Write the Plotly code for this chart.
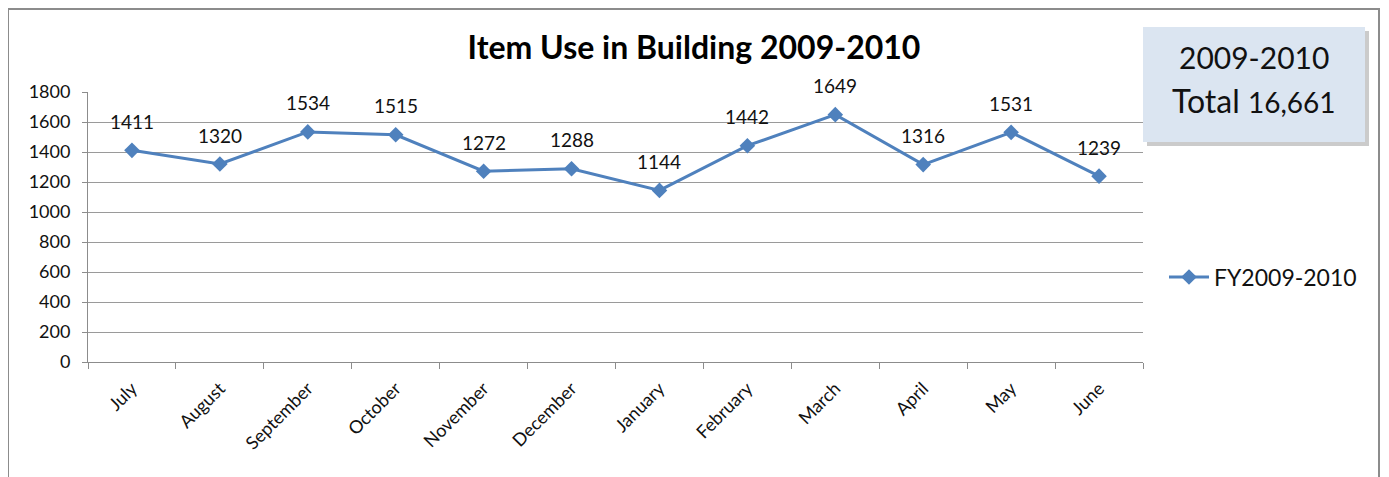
import plotly.graph_objects as go

months = ["July", "August", "September", "October", "November", "December",
          "January", "February", "March", "April", "May", "June"]
values = [1411, 1320, 1534, 1515, 1272, 1288, 1144, 1442, 1649, 1316, 1531, 1239]
series_name = "FY2009-2010"
title_text = "Item Use in Building 2009-2010"
box_line1 = "2009-2010"
box_total_label = "Total"
box_total_value = "16,661"
y_ticks = [0, 200, 400, 600, 800, 1000, 1200, 1400, 1600, 1800]

FONT = "Lato, 'Open Sans', sans-serif"
BLUE = "#4f81bd"

# page body has an 8px margin; figure is sized/offset to compensate
OFF = 8
W, H = 1389 - OFF, 477 - OFF
L, T = 88 - OFF, 92 - OFF
R = W - (1143 - OFF)
B = H - (362 - OFF)
pw, ph = W - L - R, H - T - B

def px(x):
    return (x - OFF - L) / pw

def py(y):
    return (H - B - (y - OFF)) / ph

fig = go.Figure()
fig.add_trace(go.Scatter(
    x=months, y=values, name=series_name,
    mode="lines+markers",
    line=dict(color=BLUE, width=3),
    marker=dict(symbol="diamond", size=12, color=BLUE),
    cliponaxis=False,
))

annotations = [
    dict(x=m, y=v, xref="x", yref="y", text=str(v), showarrow=False,
         yshift=29, font=dict(size=19, color="#111111", family=FONT),
         xanchor="center", yanchor="middle")
    for m, v in zip(months, values)
]

shapes = [
    dict(type="rect", xref="paper", yref="paper",
         x0=px(8), x1=px(1379), y0=py(530), y1=py(9),
         line=dict(color="#8c8c8c", width=2), fillcolor="rgba(0,0,0,0)", layer="below"),
    dict(type="rect", xref="paper", yref="paper",
         x0=px(1147), x1=px(1369), y0=py(146), y1=py(31),
         line=dict(width=0), fillcolor="rgba(140,140,140,0.45)", layer="above"),
    dict(type="rect", xref="paper", yref="paper",
         x0=px(1143), x1=px(1365), y0=py(142), y1=py(27),
         line=dict(width=0), fillcolor="#dbe5f1", layer="above"),
]

annotations += [
    dict(xref="paper", yref="paper", x=px(1254), y=py(57), showarrow=False,
         text=box_line1, font=dict(size=30, color="#111111", family=FONT),
         xanchor="center", yanchor="middle"),
    dict(xref="paper", yref="paper", x=px(1254), y=py(100), showarrow=False,
         text=f"{box_total_label} <span style='font-size:28px'>{box_total_value}</span>",
         font=dict(size=32, color="#111111", family=FONT),
         xanchor="center", yanchor="middle"),
]

fig.update_layout(
    width=W, height=H,
    margin=dict(l=L, r=R, t=T, b=B, autoexpand=False),
    paper_bgcolor="white", plot_bgcolor="white",
    font=dict(family=FONT, color="#111111"),
    title=dict(text=f"<b>{title_text}</b>", x=(694 - OFF) / W, xref="container",
               y=1 - (48 - OFF) / H, yref="container", xanchor="center", yanchor="middle",
               font=dict(size=32, family=FONT, color="#000000")),
    showlegend=True,
    legend=dict(x=px(1164), y=py(277), xanchor="left", yanchor="middle",
                font=dict(size=23, family=FONT, color="#111111"),
                bgcolor="rgba(0,0,0,0)", itemwidth=40),
    shapes=shapes,
    annotations=annotations,
    xaxis=dict(type="category", tickangle=-45, tickson="boundaries",
               ticks="outside", ticklen=6, tickcolor="#8c8c8c",
               ticklabelstandoff=8,
               showline=True, linecolor="#8c8c8c", linewidth=1,
               showgrid=False, tickfont=dict(size=18, family=FONT, color="#111111"),
               range=[-0.5, 11.5]),
    yaxis=dict(range=[0, 1800], tickvals=y_ticks, showgrid=True,
               gridcolor="#9a9a9a", gridwidth=1,
               ticks="outside", ticklen=5, tickcolor="#8c8c8c",
               ticklabelstandoff=8,
               showline=True, linecolor="#8c8c8c", linewidth=1,
               zeroline=False, tickfont=dict(size=18, family=FONT, color="#111111")),
)

fig.write_html("out.html")
